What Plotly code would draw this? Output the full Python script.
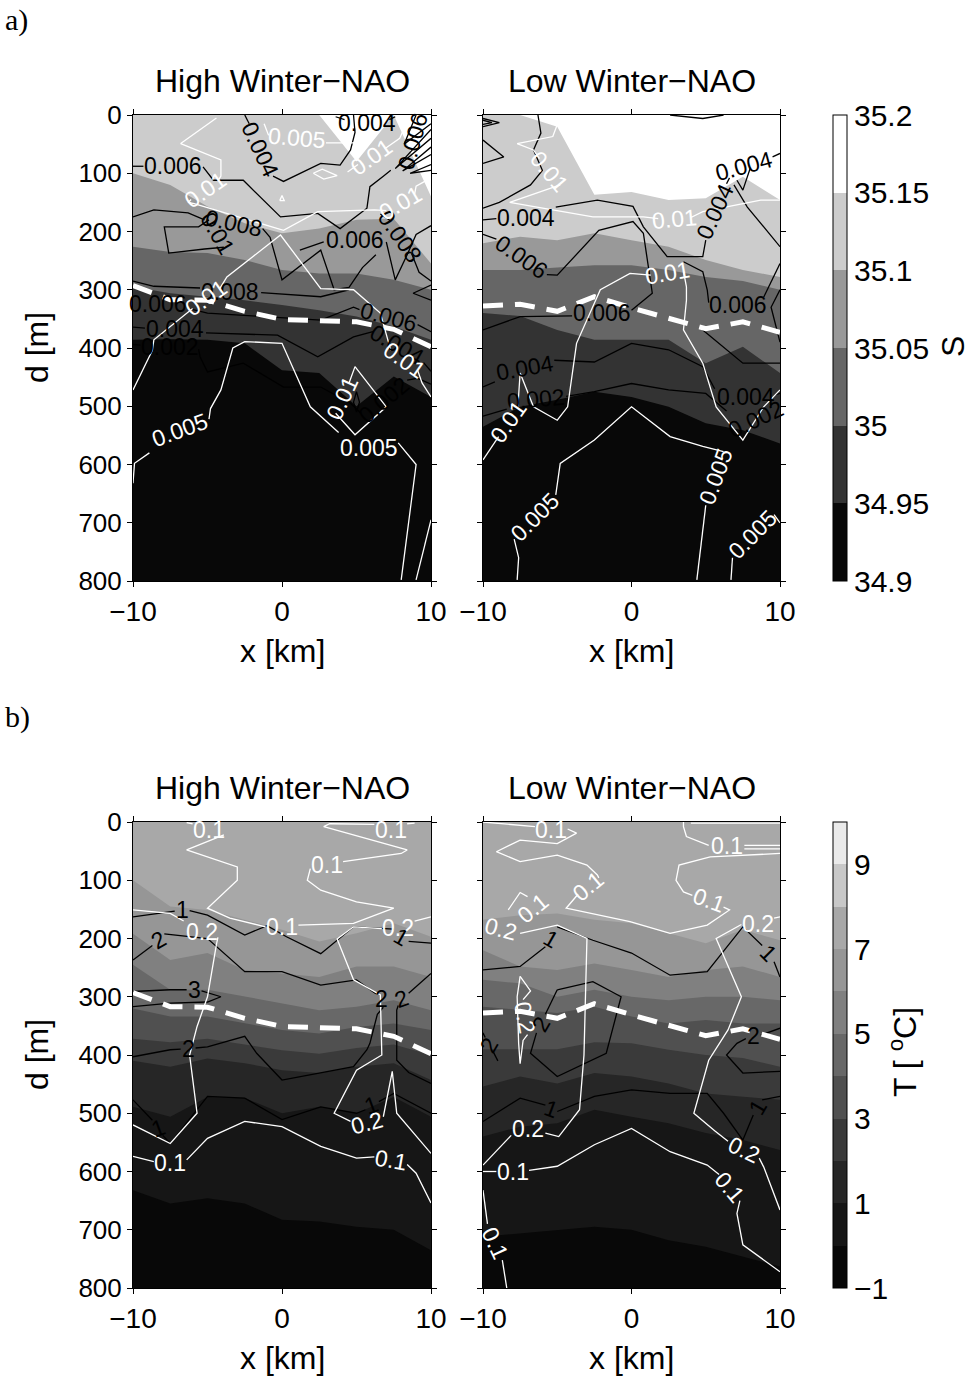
import plotly.graph_objects as go

FONT = "Liberation Sans, Arial, sans-serif"

# Section columns (km across the front)
X_COLS = [-10, -7.5, -5, -2.5, 0, 2.5, 5, 7.5, 10]

# ---------------- Salinity: isohaline depths [m] per column ----------------
S_LEVELS = [35.15, 35.10, 35.05, 35.00, 34.95]
# High winter-NAO
SH_3515 = [0, 0, 0, 0, 0, 0, 80, 0, 140]
SH_3510 = [100, 120, 157, 186, 203, 195, 180, 178, 255]
SH_3505 = [226, 235, 237, 249, 266, 272, 272, 283, 300]
SH_3500 = [295, 306, 312, 318, 326, 335, 346, 363, 386]
SH_3495 = [386, 385, 386, 392, 438, 443, 500, 449, 484]
# Low winter-NAO
SL_3515 = [0, 0, 20, 137, 132, 146, 143, 106, 146]
SL_3510 = [220, 209, 215, 203, 215, 226, 249, 266, 278]
SL_3505 = [266, 266, 262, 258, 258, 266, 278, 285, 300]
SL_3500 = [340, 345, 369, 386, 386, 386, 426, 398, 443]
SL_3495 = [535, 501, 489, 475, 484, 501, 529, 541, 564]

# ---------------- Temperature: isotherm depths [m] per column (7 degC ... 0 degC) ----
T_LEVELS = [7, 6, 5, 4, 3, 2, 1, 0]
TH_7 = [100, 145, 151, 168, 185, 205, 191, 174, 197]
TH_6 = [192, 237, 225, 254, 260, 266, 248, 248, 266]
TH_5 = [245, 288, 288, 300, 311, 323, 317, 306, 323]
TH_4 = [320, 334, 334, 346, 357, 363, 352, 346, 357]
TH_3 = [372, 378, 372, 382, 392, 398, 388, 382, 400]
TH_2 = [410, 420, 406, 414, 426, 431, 420, 414, 443]
TH_1 = [489, 506, 472, 474, 500, 489, 500, 472, 506]
TH_0 = [632, 655, 646, 655, 683, 686, 695, 700, 735]

TL_7 = [168, 160, 157, 168, 174, 191, 208, 185, 203]
TL_6 = [220, 248, 254, 243, 254, 266, 254, 248, 266]
TL_5 = [271, 277, 300, 288, 300, 306, 300, 300, 306]
TL_4 = [317, 323, 328, 317, 334, 346, 340, 346, 346]
TL_3 = [390, 390, 390, 378, 380, 391, 400, 405, 420]
TL_2 = [454, 437, 449, 431, 437, 449, 466, 472, 477]
TL_1 = [540, 523, 517, 494, 506, 517, 534, 546, 563]
TL_0 = [712, 706, 700, 695, 700, 718, 729, 746, 763]

# Dashed reference depth [m]
DASH_HIGH = [293, 317, 318, 337, 351, 354, 355, 368, 398]
DASH_LOW = [328, 325, 337, 312, 331, 349, 367, 355, 373]

# Colour bands
S_COLORS = ["#080808", "#333333", "#666666", "#999999", "#cccccc", "#ffffff"]   # 34.9 -> 35.2
T_COLORS = ["#080808", "#161616", "#262626", "#3a3a3a", "#505050", "#686868",
            "#808080", "#969696", "#a8a8a8", "#c8c8c8", "#eaeaea"]              # -1 -> 10

# ---------------- Variability contours (x [km], depth [m]); gaps sit under labels ----
PA_BLACK = [
    [(-10, 88), (-9.3, 88)],
    [(-5.3, 89), (-4.6, 112), (-2.6, 112), (-0.1, 175), (2.4, 169), (3.9, 195), (5.7, 160),
     (5.9, 123), (6.8, 105), (7.3, 95)],
    [(-2.5, 0), (-2.2, 15)],
    [(-0.6, 105), (0.1, 114), (2.6, 83), (3.9, 86), (4.6, 60), (4.9, 30), (4.8, 0)],
    [(-3.9, 227), (-5.2, 230), (-7.6, 237), (-7.9, 192), (-5.6, 192), (-4.9, 180)],
    [(-10, 175), (-8.6, 163), (-6.3, 168), (-5.2, 180)],
    [(-1.3, 195), (-0.8, 210), (0.0, 283), (2.6, 232), (3.5, 300), (4.5, 296), (5.4, 262), (6.3, 240)],
    [(1.2, 232), (2.8, 218)],
    [(7.0, 218), (7.6, 283), (8.4, 240), (9.0, 205), (10, 190)],
    [(6.6, 170), (7.3, 182)],
    [(8.7, 238), (9.2, 270), (10, 285)],
    [(10, 292), (8.8, 306), (10, 318)],
    [(-10, 285), (-8.6, 294), (-5.5, 297)],
    [(-1.4, 305), (0.5, 308), (2.6, 312), (4.5, 300)],
    [(-6.3, 332), (-5.0, 340), (-0.1, 348), (2.6, 352), (4.8, 330), (5.2, 334)],
    [(9.1, 360), (10, 372)],
    [(-10, 364), (-9.2, 366)],
    [(-5.1, 374), (-0.3, 378), (2.4, 415), (4.8, 381), (6.1, 372)],
    [(9.5, 425), (10, 440)],
    [(-10, 394), (-9.5, 395)],
    [(-5.6, 402), (-5.5, 415), (-5.0, 441), (-2.6, 426), (0.1, 467), (2.6, 467), (4.6, 495), (5.3, 512)],
    [(8.4, 455), (9.1, 452), (10, 462)],
    [(5.0, 475), (5.2, 493), (5.0, 510), (4.8, 493), (5.0, 475)],
    [(10, 25), (7.6, 92), (10, 40)],
    [(10, 55), (8.1, 96), (10, 68)],
    [(10, 85), (8.6, 100), (10, 95)],
    [(9.0, 0), (8.2, 50), (10, 15)],
    [(3.6, 3), (4.2, 8)],
    [(7.2, 8), (7.6, 3)],
]
PA_WHITE = [
    [(-4.4, 5), (-6.8, 49), (-4.1, 77), (-4.1, 105), (-4.3, 113)],
    [(-6.1, 145), (-6.3, 150), (-5.9, 152), (0.1, 198), (2.4, 166), (6.2, 163), (7.0, 164)],
    [(8.9, 136), (9.0, 122), (10, 108)],
    [(-10, 472), (-8.7, 404), (-8.6, 386), (-7.0, 352), (-6.0, 332)],
    [(-4.2, 299), (-3.7, 278), (-0.1, 206), (2.6, 298), (4.8, 300), (6.6, 340), (7.3, 404)],
    [(9.1, 438), (9.4, 460), (10, 484)],
    [(-10, 632), (-9.9, 598), (-8.9, 580)],
    [(-4.9, 522), (-4.8, 504), (-4.1, 472), (-3.3, 400), (-2.5, 389), (0.0, 392), (1.9, 501), (3.8, 545)],
    [(7.8, 563), (9.0, 600), (8.0, 798)],
    [(4.5, 460), (4.9, 432), (7.0, 501), (4.9, 549), (3.6, 512)],
    [(10, 695), (9.0, 798)],
    [(-1.2, 15), (-0.9, 35)],
    [(2.95, 48), (4.8, 48), (5.5, 30), (6.3, 5)],
    [(2.1, 100), (2.7, 93), (3.7, 104), (2.8, 110), (2.1, 100)],
    [(-0.15, 147), (0, 138), (0.15, 147), (-0.15, 147)],
    [(4.4, 98), (5.1, 85)],
    [(6.9, 58), (7.9, 40), (8.6, 0)],
]
PA_LABELS = [
    ("0.006", -7.3, 88, 0, "black"), ("0.004", -1.45, 60, 65, "black"),
    ("0.005", 1.0, 40, 5, "white"), ("0.004", 5.7, 14, 0, "black"),
    ("0.01", -5.15, 129, -35, "white"), ("0.01", 6.0, 72, -35, "white"),
    ("0.008", -3.25, 186, 12, "black"), ("0.01", -4.35, 203, 60, "black"),
    ("0.006", 4.9, 215, 0, "black"), ("0.008", 7.95, 209, 55, "black"),
    ("0.01", 7.95, 151, -30, "white"), ("0.006", 8.8, 45, -75, "black"),
    ("0.008", -3.5, 303, 0, "black"), ("0.01", -5.1, 315, -35, "white"),
    ("0.006", -8.3, 325, 0, "black"), ("0.004", -7.15, 368, 0, "black"),
    ("0.002", -7.5, 398, 0, "black"), ("0.006", 7.2, 346, 15, "black"),
    ("0.005", -6.85, 541, -20, "white"), ("0.005", 5.85, 572, 0, "white"),
    ("0.01", 4.05, 486, -65, "white"), ("0.004", 7.75, 395, 30, "black"),
    ("0.01", 8.2, 421, 35, "white"), ("0.002", 6.85, 489, -40, "black"),
]

PB_BLACK = [
    [(-10, 6), (-8.9, 13), (-10, 20)],
    [(-10, 9), (-9.4, 13), (-10, 16)],
    [(-10, 43), (-8.6, 72), (-10, 83)],
    [(-10, 180), (-9.1, 178)],
    [(-5.1, 158), (-2.3, 146), (0.1, 157), (0.8, 192), (2.4, 243), (4.8, 243), (5.0, 215)],
    [(6.4, 118), (6.6, 108)],
    [(9.5, 72), (10, 66)],
    [(-6.3, 0), (-6.1, 31), (-6.6, 60), (-6.0, 95), (-6.8, 120), (-8.9, 150), (-10, 160)],
    [(6.9, 120), (7.8, 158), (10, 226)],
    [(8.0, 91), (7.5, 129), (7.1, 112)],
    [(-10, 205), (-9.1, 213)],
    [(-5.7, 274), (-5.0, 275), (-2.2, 198), (0.1, 183), (0.8, 203), (1.4, 306), (0.0, 335)],
    [(-4.0, 345), (-7.5, 346), (-10, 369)],
    [(3.5, 252), (4.8, 269), (5.1, 300), (5.2, 322)],
    [(8.9, 313), (10, 255)],
    [(10, 300), (9.4, 330), (10, 390)],
    [(2.6, 0), (4.8, 6), (6.2, 0)],
    [(-10, 467), (-9.2, 458)],
    [(-5.2, 421), (-2.5, 424), (0, 392), (2.5, 403), (4.8, 432), (5.6, 470)],
    [(9.7, 480), (10, 478)],
    [(4.8, 369), (7.5, 426), (10, 426)],
    [(-10, 517), (-8.4, 505)],
    [(-4.4, 483), (-2.5, 475), (0, 461), (2.5, 472), (5.0, 478), (6.4, 508)],
]
PB_WHITE = [
    [(-4.8, 3), (-5.3, 37), (-7.7, 49), (-6.6, 60), (-6.2, 75)],
    [(-4.8, 120), (-8.2, 150), (-2.6, 175), (0.8, 175), (1.8, 178)],
    [(4.0, 176), (4.8, 166), (8.7, 146), (10, 146)],
    [(-10, 592), (-8.95, 552)],
    [(-7.65, 500), (-7.5, 443), (-6.6, 501), (-5.0, 524), (-4.3, 501), (-3.7, 392), (-2.1, 300),
     (-0.1, 272), (1.3, 275)],
    [(3.5, 268), (3.7, 295), (3.7, 318), (3.5, 369), (4.8, 426), (5.7, 501), (7.5, 558), (8.9, 501), (10, 472)],
    [(-7.7, 798), (-7.6, 760), (-7.9, 728)],
    [(-5.1, 652), (-4.8, 598), (-2.5, 558), (0, 501), (2.6, 552), (4.8, 569), (6.2, 578)],
    [(5.0, 670), (4.4, 798)],
    [(6.7, 798), (6.8, 760)],
    [(9.6, 686), (10, 700)],
]
PB_LABELS = [
    ("0.004", -7.1, 176, 0, "black"), ("0.004", 5.6, 166, -65, "black"),
    ("0.004", 7.6, 88, -15, "black"), ("0.006", -7.4, 243, 35, "black"),
    ("0.006", -2.0, 340, 0, "black"), ("0.006", 7.15, 326, 0, "black"),
    ("0.004", -7.2, 435, -10, "black"), ("0.004", 7.7, 484, 0, "black"),
    ("0.002", -6.4, 488, -5, "black"), ("0.002", 8.4, 522, -25, "black"),
    ("0.01", -5.5, 97, 50, "white"), ("0.01", 2.9, 178, -5, "white"),
    ("0.01", -8.3, 527, -55, "white"), ("0.01", 2.4, 272, -10, "white"),
    ("0.005", -6.5, 690, -45, "white"), ("0.005", 5.7, 620, -70, "white"),
    ("0.005", 8.2, 720, -45, "white"),
]

PC_BLACK = [
    [(-10, 163), (-7.2, 153)],
    [(-6.2, 152), (-5.0, 160), (-2.5, 194), (-1.0, 178), (0.3, 197), (2.6, 226), (4.8, 180), (7.5, 184)],
    [(8.5, 205), (10, 208)],
    [(-10, 237), (-8.7, 212)],
    [(-7.9, 192), (-5.0, 200), (-2.5, 257), (0.0, 257), (2.6, 280), (5.0, 271), (6.3, 295)],
    [(6.8, 318), (6.4, 330), (5.9, 380), (5.7, 391), (4.8, 420), (2.6, 431), (0.0, 443), (-1.7, 397),
     (-2.5, 368), (-5.0, 386), (-5.8, 388)],
    [(-6.8, 390), (-7.5, 391), (-10, 403)],
    [(-10, 291), (-7.5, 288), (-6.4, 288)],
    [(-5.4, 290), (-4.1, 300), (-5.0, 309), (-7.5, 311), (-10, 317)],
    [(10, 260), (8.5, 294)],
    [(7.8, 315), (7.7, 323), (7.7, 409), (8.5, 430), (10, 449)],
    [(-10, 477), (-8.7, 512)],
    [(-8.0, 538), (-7.5, 552), (-5.0, 471), (-2.5, 474), (0, 511), (2.6, 489), (5.0, 500), (5.6, 494)],
    [(6.5, 480), (7.5, 466), (10, 500)],
]
PC_WHITE = [
    [(-6.4, 1), (-6.0, 3)],
    [(-3.9, 22), (-6.4, 48), (-3.0, 77), (-3.0, 100), (-5.0, 148), (-3.5, 165), (-1.1, 180)],
    [(1.1, 177), (4.8, 174), (7.5, 148), (5.0, 137), (2.6, 117), (1.7, 100), (1.9, 80)],
    [(4.1, 68), (8.0, 54), (8.4, 48), (4.8, 22), (2.8, 8), (3.2, 3), (6.2, 4)],
    [(8.4, 3), (8.9, 2)],
    [(-10, 151), (-7.5, 157), (-6.6, 170)],
    [(-4.3, 198), (-4.4, 210), (-5.0, 300), (-5.7, 351), (-6.2, 400), (-5.7, 500), (-7.5, 552), (-10, 520)],
    [(10, 163), (8.9, 170)],
    [(6.7, 183), (4.8, 180), (3.7, 201), (4.8, 271), (6.6, 297), (6.7, 400), (5.0, 426), (3.5, 500), (4.6, 514)],
    [(6.8, 506), (7.4, 428), (7.7, 500), (10, 569)],
    [(-10, 574), (-8.6, 583)],
    [(-6.4, 580), (-5.0, 543), (-2.5, 514), (0, 523), (2.6, 557), (5.0, 577), (6.2, 575)],
    [(8.4, 588), (9.0, 603), (10, 654)],
]
PC_LABELS = [
    ("0.1", -4.9, 14, 0, "white"), ("0.1", 0.0, 181, 0, "white"),
    ("0.1", 3.0, 74, 0, "white"), ("0.1", 7.3, 14, 0, "white"),
    ("0.2", -5.4, 188, 0, "white"), ("0.2", 7.8, 182, 0, "white"),
    ("0.2", 5.7, 517, -15, "white"), ("0.1", -7.5, 585, 0, "white"),
    ("0.1", 7.3, 580, 10, "white"),
    ("1", -6.7, 151, 0, "black"), ("1", 8.0, 197, 30, "black"),
    ("2", -8.3, 202, -30, "black"), ("2", 6.7, 303, 0, "black"),
    ("2", 8.0, 303, -20, "black"), ("3", -5.9, 288, 0, "black"),
    ("2", -6.3, 389, 0, "black"), ("1", -8.3, 526, -20, "black"),
    ("1", 6.0, 486, -20, "black"),
]

PD_BLACK = [
    [(-10, 254), (-7.5, 248), (-5.8, 214)],
    [(-5.0, 180), (-2.6, 203), (0, 225), (2.6, 263), (5.1, 257), (7.5, 180), (8.8, 212)],
    [(9.6, 240), (10, 266)],
    [(-5.0, 288), (-2.6, 274), (-0.7, 300), (-1.7, 397), (-5.0, 437), (-6.8, 397), (-6.4, 362)],
    [(-5.8, 330), (-5.0, 288)],
    [(-10, 362), (-9.85, 370)],
    [(-9.3, 395), (-9.0, 410)],
    [(10, 354), (8.7, 366)],
    [(7.7, 372), (7.1, 380), (6.4, 400), (7.5, 431), (10, 428)],
    [(-10, 514), (-7.5, 474), (-5.8, 486)],
    [(-5.0, 497), (-2.5, 471), (0, 460), (2.6, 466), (5.1, 466), (6.2, 500), (7.5, 546), (8.2, 503)],
    [(8.8, 477), (10, 471)],
]
PD_WHITE = [
    [(-10, 0), (-7.5, 5), (-6.5, 8)],
    [(-4.3, 12), (-3.7, 19), (-5.0, 37), (-7.5, 31), (-9.1, 51), (-7.5, 68), (-5.0, 57), (-3.0, 74),
     (-2.3, 91), (-2.2, 96)],
    [(-3.6, 124), (-4.4, 148), (-0.1, 171), (2.6, 191), (5.1, 177), (6.6, 151), (6.2, 146)],
    [(4.1, 126), (3.5, 120), (3.0, 100), (3.2, 74), (5.3, 60), (10, 54)],
    [(3.5, 0), (3.5, 8), (3.7, 25), (5.2, 40)],
    [(7.6, 40), (10, 40)],
    [(7.6, 46), (10, 46)],
    [(4.0, 2), (10, 2)],
    [(-8.3, 151), (-7.5, 121), (-7.0, 128)],
    [(-7.5, 191), (-5.0, 177), (-3.0, 200), (-3.2, 374), (-3.2, 400), (-3.5, 494), (-4.9, 540), (-5.8, 534)],
    [(-8.1, 538), (-10, 589)],
    [(-7.5, 265), (-6.8, 290), (-7.3, 305)],
    [(-7.0, 365), (-7.3, 375), (-7.5, 415), (-7.6, 380), (-7.7, 300), (-7.5, 265)],
    [(10, 163), (9.6, 165)],
    [(7.4, 176), (5.7, 200), (7.4, 300), (6.5, 357), (5.2, 409), (4.2, 500), (5.6, 530), (6.5, 548)],
    [(8.6, 577), (8.9, 592), (10, 666)],
    [(-10, 600), (-9.1, 600)],
    [(-6.9, 598), (-5.0, 591), (-2.5, 554), (0, 526), (2.6, 566), (5.1, 589), (5.9, 605)],
    [(7.3, 650), (7.1, 672), (7.5, 726), (10, 772)],
    [(-10, 632), (-9.7, 690)],
    [(-8.7, 752), (-8.4, 800)],
]
PD_LABELS = [
    ("0.1", -5.4, 14, 0, "white"), ("0.1", -2.9, 110, -40, "white"),
    ("0.1", 5.2, 134, 20, "white"), ("0.1", 6.4, 42, 0, "white"),
    ("0.1", -6.6, 148, -40, "white"), ("0.2", -8.8, 183, 15, "white"),
    ("0.2", -7.2, 335, 80, "white"), ("0.2", -6.95, 527, 0, "white"),
    ("0.2", 8.5, 175, 0, "white"), ("0.2", 7.6, 563, 25, "white"),
    ("0.1", -8.0, 600, 0, "white"), ("0.1", 6.6, 626, 50, "white"),
    ("0.1", -9.2, 723, 65, "white"),
    ("1", -5.4, 200, 30, "black"), ("1", 9.2, 225, 45, "black"),
    ("2", -6.1, 346, -60, "black"), ("2", -9.6, 382, -60, "black"),
    ("2", 8.2, 368, 0, "black"), ("1", -5.4, 492, 20, "black"),
    ("1", 8.5, 489, -60, "black"),
]

# ---------------- figure geometry (pixels) ----------------
W, H = 973, 1380
PANEL_X = [(133, 431), (483, 780)]
PANEL_Y = [(115, 581), (822, 1288)]


def px(x):
    return x / W


def py(y):
    return 1 - y / H


fig = go.Figure()

panels = [
    ("x", "y", [SH_3515, SH_3510, SH_3505, SH_3500, SH_3495], S_COLORS[::-1], PA_BLACK, PA_WHITE, PA_LABELS, DASH_HIGH),
    ("x2", "y2", [SL_3515, SL_3510, SL_3505, SL_3500, SL_3495], S_COLORS[::-1], PB_BLACK, PB_WHITE, PB_LABELS, DASH_LOW),
    ("x3", "y3", [TH_7, TH_6, TH_5, TH_4, TH_3, TH_2, TH_1, TH_0], T_COLORS[8::-1], PC_BLACK, PC_WHITE, PC_LABELS, DASH_HIGH),
    ("x4", "y4", [TL_7, TL_6, TL_5, TL_4, TL_3, TL_2, TL_1, TL_0], T_COLORS[8::-1], PD_BLACK, PD_WHITE, PD_LABELS, DASH_LOW),
]


def segs_to_xy(segs):
    xs, ys = [], []
    for seg in segs:
        for (a, b) in seg:
            xs.append(a)
            ys.append(b)
        xs.append(None)
        ys.append(None)
    return xs, ys


annotations = []
for xa, ya, bounds, colors, blk, wht, labels, dash in panels:
    # lightest band covers the whole section; each deeper band is stacked below its isoline
    fig.add_trace(go.Scatter(x=[-10, 10, 10, -10], y=[0, 0, 800, 800], fill="toself",
                             fillcolor=colors[0], line=dict(width=0), mode="lines",
                             xaxis=xa, yaxis=ya, hoverinfo="skip", showlegend=False))
    for b, c in zip(bounds, colors[1:]):
        fig.add_trace(go.Scatter(x=X_COLS + [10, -10], y=b + [800, 800], fill="toself",
                                 fillcolor=c, line=dict(width=0), mode="lines",
                                 xaxis=xa, yaxis=ya, hoverinfo="skip", showlegend=False))
    for segs, col in ((blk, "black"), (wht, "white")):
        xs, ys = segs_to_xy(segs)
        fig.add_trace(go.Scatter(x=xs, y=ys, mode="lines", line=dict(color=col, width=1.3),
                                 xaxis=xa, yaxis=ya, hoverinfo="skip", showlegend=False))
    fig.add_trace(go.Scatter(x=X_COLS, y=dash, mode="lines",
                             line=dict(color="white", width=5, dash="20px,12px"),
                             xaxis=xa, yaxis=ya, hoverinfo="skip", showlegend=False))
    for text, lx, ld, ang, col in labels:
        annotations.append(dict(x=lx, y=ld, xref=xa, yref=ya, text=text, textangle=ang,
                                xanchor="center", yanchor="middle", showarrow=False,
                                font=dict(family=FONT, size=23, color=col)))


def stepped(colors):
    n = len(colors)
    out = []
    for i, c in enumerate(colors):
        out.append([i / n, c])
        out.append([(i + 1) / n, c])
    return out


S_TICKS = [34.9, 34.95, 35.0, 35.05, 35.1, 35.15, 35.2]
S_TICKTEXT = ["34.9", "34.95", "35", "35.05", "35.1", "35.15", "35.2"]
T_TICKS = [-1, 1, 3, 5, 7, 9]
T_TICKTEXT = ["\u22121", "1", "3", "5", "7", "9"]

for xa, ya, cmin, cmax, cols, tv, tt, top in (
        ("x", "y", 34.9, 35.2, S_COLORS, S_TICKS, S_TICKTEXT, 115),
        ("x3", "y3", -1, 10, T_COLORS, T_TICKS, T_TICKTEXT, 822)):
    fig.add_trace(go.Scatter(
        x=[0], y=[-500], mode="markers", xaxis=xa, yaxis=ya, hoverinfo="skip", showlegend=False,
        marker=dict(size=1, color=[cmin], cmin=cmin, cmax=cmax, colorscale=stepped(cols),
                    showscale=True,
                    colorbar=dict(x=px(833), xanchor="left", y=py(top), yanchor="top",
                                  len=466, lenmode="pixels", thickness=14, thicknessmode="pixels",
                                  outlinewidth=1, outlinecolor="black", tickvals=tv, ticktext=tt,
                                  ticks="", xpad=0, ypad=0,
                                  tickfont=dict(family=FONT, size=30, color="black")))))

axis_style = dict(showline=True, linecolor="black", linewidth=1, mirror="ticks", ticks="outside",
                  ticklen=5, tickcolor="black", tickwidth=1, showgrid=False, zeroline=False,
                  automargin=False)

layout = dict(template="none", width=W, height=H, margin=dict(l=0, r=0, t=0, b=0, autoexpand=False),
              paper_bgcolor="white", plot_bgcolor="white", showlegend=False,
              font=dict(family=FONT, color="black"))
names = [("xaxis", "yaxis", "x", "y", 0, 0), ("xaxis2", "yaxis2", "x2", "y2", 1, 0),
         ("xaxis3", "yaxis3", "x3", "y3", 0, 1), ("xaxis4", "yaxis4", "x4", "y4", 1, 1)]
for xn, yn, xr, yr, ci, ri in names:
    x0, x1 = PANEL_X[ci]
    y0, y1 = PANEL_Y[ri]
    layout[xn] = dict(axis_style, domain=[px(x0), px(x1)], anchor=yr, range=[-10, 10],
                      tickvals=[-10, 0, 10], tickfont=dict(family=FONT, size=28, color="black"))
    layout[yn] = dict(axis_style, domain=[py(y1), py(y0)], anchor=xr, range=[800, 0],
                      tickvals=list(range(0, 801, 100)), showticklabels=(ci == 0),
                      tickfont=dict(family=FONT, size=26, color="black"))

TITLE_FONT = dict(family=FONT, size=32, color="black")
for ri, (y0, y1) in enumerate(PANEL_Y):
    for ci, title in enumerate(["High Winter\u2212NAO", "Low Winter\u2212NAO"]):
        cx = sum(PANEL_X[ci]) / 2
        annotations.append(dict(x=px(cx), y=py(y0 - 34), xref="paper", yref="paper", text=title,
                                showarrow=False, font=TITLE_FONT, xanchor="center", yanchor="middle"))
        annotations.append(dict(x=px(cx), y=py(y1 + 70), xref="paper", yref="paper", text="x [km]",
                                showarrow=False, font=TITLE_FONT, xanchor="center", yanchor="middle"))
    annotations.append(dict(x=px(37), y=py((y0 + y1) / 2), xref="paper", yref="paper", text="d [m]",
                            textangle=-90, showarrow=False, font=TITLE_FONT,
                            xanchor="center", yanchor="middle"))

annotations.append(dict(x=px(953), y=py(347), xref="paper", yref="paper", text="S", textangle=-90,
                        showarrow=False, font=TITLE_FONT, xanchor="center", yanchor="middle"))
annotations.append(dict(x=px(903), y=py(1052), xref="paper", yref="paper",
                        text="T [ <sup>o</sup>C]", textangle=-90, showarrow=False, font=TITLE_FONT,
                        xanchor="center", yanchor="middle"))
SERIF = dict(family="Liberation Serif, DejaVu Serif, serif", size=30, color="black")
annotations.append(dict(x=px(3), y=py(20), xref="paper", yref="paper", text="a)", xanchor="left",
                        yanchor="middle", showarrow=False, font=SERIF))
annotations.append(dict(x=px(3), y=py(717), xref="paper", yref="paper", text="b)", xanchor="left",
                        yanchor="middle", showarrow=False, font=SERIF))

layout["annotations"] = annotations
fig.update_layout(**layout)
fig.write_html("out.html")
